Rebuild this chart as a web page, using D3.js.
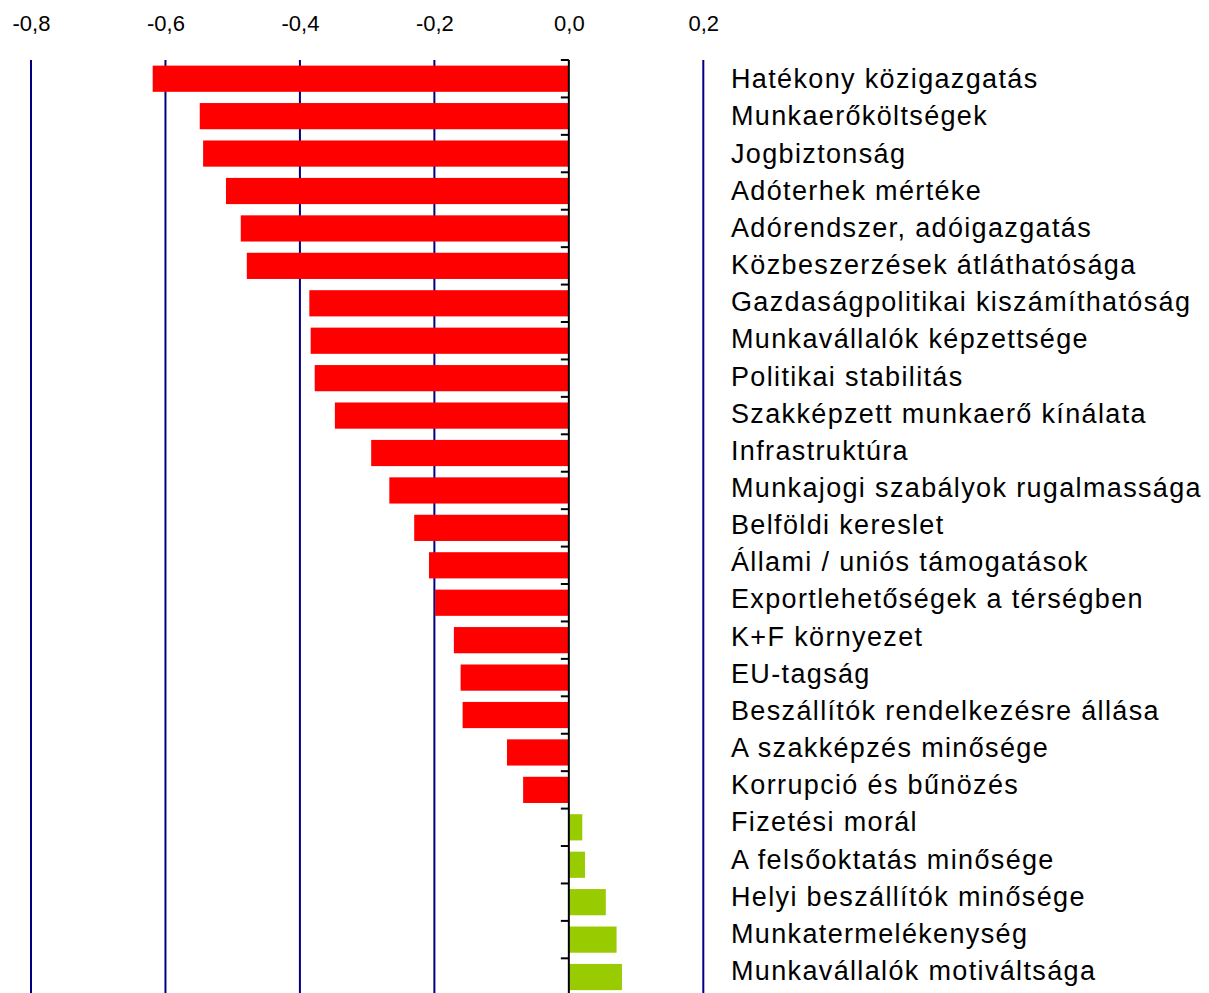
<!DOCTYPE html>
<html>
<head>
<meta charset="utf-8">
<script src="https://cdn.jsdelivr.net/npm/d3@7"></script>
<style>
  body { margin: 0; background: #fff; }
  svg text { font-family: "Liberation Sans", Arial, sans-serif; fill: #000; }
</style>
</head>
<body>
<div id="chart"></div>
<script>
// categories, top to bottom
var categories = [
  "Hatékony közigazgatás",
  "Munkaerőköltségek",
  "Jogbiztonság",
  "Adóterhek mértéke",
  "Adórendszer, adóigazgatás",
  "Közbeszerzések átláthatósága",
  "Gazdaságpolitikai kiszámíthatóság",
  "Munkavállalók képzettsége",
  "Politikai stabilitás",
  "Szakképzett munkaerő kínálata",
  "Infrastruktúra",
  "Munkajogi szabályok rugalmassága",
  "Belföldi kereslet",
  "Állami / uniós támogatások",
  "Exportlehetőségek a térségben",
  "K+F környezet",
  "EU-tagság",
  "Beszállítók rendelkezésre állása",
  "A szakképzés minősége",
  "Korrupció és bűnözés",
  "Fizetési morál",
  "A felsőoktatás minősége",
  "Helyi beszállítók minősége",
  "Munkatermelékenység",
  "Munkavállalók motiváltsága"
];

var values = [
  -0.619, -0.549, -0.544, -0.510, -0.488, -0.479, -0.386, -0.384, -0.378, -0.348,
  -0.294, -0.267, -0.230, -0.208, -0.199, -0.171, -0.161, -0.158, -0.092, -0.068,
  0.020, 0.024, 0.055, 0.071, 0.079
];

var xTicks = [-0.8, -0.6, -0.4, -0.2, 0.0, 0.2];

var width = 1209, height = 993;

var data = categories.map(function (c, i) { return { cat: c, value: values[i] }; });

var svg = d3.select("#chart")
  .append("svg")
  .attr("width", width)
  .attr("height", height);

var x = d3.scaleLinear()
  .domain([-0.8, 0.2])
  .range([31, 703.3]);

var y = d3.scaleBand()
  .domain(categories)
  .range([60, 995.75])
  .paddingInner(0.3)
  .paddingOuter(0.15);

// label baselines
var yLabel = d3.scalePoint()
  .domain(categories)
  .range([88.3, 980]);

// top axis, labels only
var xAxis = svg.append("g")
  .attr("transform", "translate(0,40)")
  .call(d3.axisTop(x)
    .tickValues(xTicks)
    .tickSize(0)
    .tickPadding(9)
    .tickFormat(function (d) { return d3.format(".1f")(d).replace(".", ",").replace("−", "-"); }));
xAxis.select(".domain").remove();
xAxis.selectAll("text")
  .style("font-size", "22px")
  .style("font-family", "'Liberation Sans', Arial, sans-serif");

// grid lines
svg.append("g")
  .selectAll("line")
  .data(xTicks.filter(function (d) { return d !== 0; }))
  .enter()
  .append("line")
  .attr("x1", function (d) { return x(d); })
  .attr("x2", function (d) { return x(d); })
  .attr("y1", 60)
  .attr("y2", height)
  .attr("stroke", "#000080")
  .attr("stroke-width", 2);

// bars
svg.append("g")
  .selectAll("rect")
  .data(data)
  .enter()
  .append("rect")
  .attr("x", function (d) { return x(Math.min(0, d.value)); })
  .attr("y", function (d) { return y(d.cat); })
  .attr("width", function (d) { return Math.abs(x(d.value) - x(0)); })
  .attr("height", y.bandwidth())
  .attr("fill", function (d) { return d.value < 0 ? "#ff0000" : "#99cc00"; });

// zero line with category ticks
svg.append("line")
  .attr("x1", x(0)).attr("x2", x(0))
  .attr("y1", 60).attr("y2", height)
  .attr("stroke", "#000")
  .attr("stroke-width", 2);

svg.append("g")
  .selectAll("line")
  .data(categories)
  .enter()
  .append("line")
  .attr("x1", x(0) - 8)
  .attr("x2", x(0))
  .attr("y1", function (d) { return y(d) - y.step() * 0.15; })
  .attr("y2", function (d) { return y(d) - y.step() * 0.15; })
  .attr("stroke", "#000")
  .attr("stroke-width", 2);

// category labels on the right
svg.append("g")
  .selectAll("text")
  .data(categories)
  .enter()
  .append("text")
  .attr("x", 731)
  .attr("y", function (d) { return yLabel(d); })
  .style("font-size", "27px")
  .style("letter-spacing", "1.35px")
  .text(function (d) { return d; });
</script>
</body>
</html>
